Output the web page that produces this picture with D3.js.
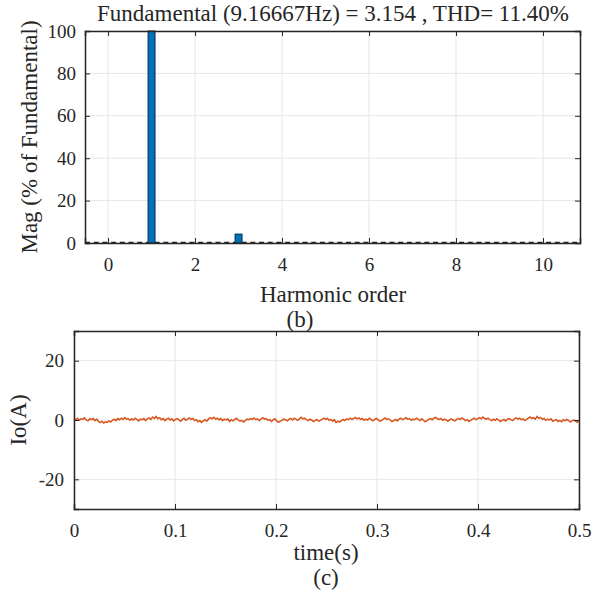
<!DOCTYPE html>
<html><head><meta charset="utf-8">
<script src="https://cdn.jsdelivr.net/npm/d3@7"></script>
<style>body{margin:0;background:#fff}svg{display:block}text{font-family:"Liberation Serif","Times New Roman",serif;fill:#262626}</style>
</head><body><svg id="c" width="602" height="599"></svg>
<script>
const harmonics = [1, 3];
const harmonicMag = [100, 4.2];
const harmonicTicks = [0, 2, 4, 6, 8, 10];
const magTicks = [0, 20, 40, 60, 80, 100];
const titleText = "Fundamental (9.16667Hz) = 3.154 , THD= 11.40%";
const ioValues = [0.3,0.1,0.6,-0.1,0.4,0.2,0.7,0.0,-0.3,0.4,0.1,0.5,-0.2,0.3,-0.5,-0.9,-0.4,-1.0,-0.6,-0.8,
-0.3,-0.7,-0.1,0.3,-0.2,0.5,0.1,0.6,0.2,0.8,0.3,0.5,-0.1,0.4,0.0,0.6,0.2,-0.3,0.3,0.1,
0.5,-0.2,0.4,0.7,0.2,1.0,0.5,1.2,0.4,0.8,0.1,0.5,-0.2,0.3,0.6,0.0,0.4,-0.3,0.2,0.5,
0.1,-0.4,0.2,0.6,-0.1,0.3,0.7,0.2,0.5,-0.2,0.1,-0.6,-0.2,-0.8,-0.3,0.1,-0.4,0.3,0.8,0.4,
0.9,0.3,0.6,0.1,0.5,-0.2,0.3,0.0,0.4,-0.5,0.1,-0.3,0.2,0.6,0.0,-0.4,-0.1,-0.7,-0.2,0.3,
0.1,0.5,0.2,0.7,0.1,0.4,-0.2,0.3,0.8,0.3,0.5,-0.1,0.2,-0.5,0.1,0.4,-0.3,-0.8,-0.4,-0.1,
0.3,0.1,-0.3,0.2,0.5,0.0,0.6,0.3,-0.1,0.4,0.9,0.4,0.6,0.1,-0.2,0.3,0.0,-0.5,-0.2,0.2,
-0.4,-0.1,0.3,0.6,0.2,0.5,-0.1,0.2,-0.4,0.1,-0.9,-0.4,-0.7,-0.2,0.2,-0.2,0.4,0.1,0.6,0.2,
0.5,0.9,0.4,0.7,0.2,0.5,-0.1,0.3,0.0,0.6,0.2,-0.3,0.1,0.5,0.1,-0.4,-0.1,0.3,0.7,0.2,
0.4,0.0,-0.5,-0.2,0.2,-0.3,0.3,0.6,0.1,0.4,0.8,0.3,0.5,-0.1,0.3,0.1,0.6,0.2,-0.2,0.4,
-0.1,-0.6,-0.2,0.2,0.5,0.1,0.6,0.9,0.4,0.2,0.5,-0.1,0.3,0.0,-0.4,0.1,0.4,0.0,-0.3,0.2,
0.5,0.2,0.7,0.3,-0.2,0.1,-0.5,-0.1,0.3,0.6,0.1,0.4,0.8,0.4,1.0,0.5,0.3,0.6,0.1,-0.2,
0.3,-0.1,0.4,0.0,-0.5,-0.1,0.2,-0.3,0.3,0.5,0.1,-0.2,0.4,0.7,0.3,0.6,0.1,0.4,-0.2,0.2,
0.6,1.0,0.5,0.8,0.3,1.2,0.6,0.9,0.2,0.5,-0.1,0.3,0.0,0.4,-0.4,-0.1,0.2,-0.5,-0.2,-0.6,
0.1,-0.3,0.2,-0.1,-0.7,-0.3,0.0,-0.4,-0.8,-0.2];
const timeTicks = [0, 0.1, 0.2, 0.3, 0.4, 0.5];
const ioTicks = [-20, 0, 20];

const svg = d3.select("#c");
const axisCol = "#262626", gridCol = "#e6e6e6";
const fs = 19, lfs = 23;

function styleAxis(g) {
  g.attr("font-family", "Liberation Serif");
  g.select(".domain").attr("stroke", axisCol).attr("stroke-width", 1.5);
  g.selectAll(".tick line").attr("stroke", axisCol);
  g.selectAll(".tick text").attr("font-size", fs).attr("fill", axisCol);
}

// ---- Top chart
const t = {l:85, r:580, t:31, b:243};
const x1 = d3.scaleLinear().domain([-0.53, 10.85]).range([t.l, t.r]);
const y1 = d3.scaleLinear().domain([0, 100]).range([t.b, t.t]);
const g1 = svg.append("g");
harmonicTicks.forEach(v => g1.append("line").attr("x1", x1(v)).attr("x2", x1(v)).attr("y1", t.t).attr("y2", t.b).attr("stroke", gridCol));
magTicks.forEach(v => g1.append("line").attr("x1", t.l).attr("x2", t.r).attr("y1", y1(v)).attr("y2", y1(v)).attr("stroke", gridCol));
g1.append("line").attr("x1", t.l).attr("x2", t.r).attr("y1", y1(0)-0.5).attr("y2", y1(0)-0.5)
  .attr("stroke", "#222").attr("stroke-width", 1.5).attr("stroke-dasharray", "5,3.7");
const bw = 0.16;
g1.selectAll("rect.bar").data(harmonics).enter().append("rect")
  .attr("x", (d) => x1(d - bw/2)).attr("width", x1(bw) - x1(0))
  .attr("y", (d,i) => y1(harmonicMag[i])).attr("height", (d,i) => y1(0) - y1(harmonicMag[i]))
  .attr("fill", "#0072BD").attr("stroke", "#0a2a4a").attr("stroke-width", 1);
const ax1b = d3.axisBottom(x1).tickValues(harmonicTicks).tickSize(-5).tickPadding(15).tickFormat(d => String(d));
const ax1t = d3.axisTop(x1).tickValues(harmonicTicks).tickSize(-5).tickFormat("");
const ax1l = d3.axisLeft(y1).tickValues(magTicks).tickSize(-5).tickPadding(9).tickFormat(d => String(d));
const ax1r = d3.axisRight(y1).tickValues(magTicks).tickSize(-5).tickFormat("");
[[ax1b, `translate(0,${t.b})`], [ax1t, `translate(0,${t.t})`], [ax1l, `translate(${t.l},0)`], [ax1r, `translate(${t.r},0)`]].forEach(([a, tr]) => {
  styleAxis(g1.append("g").attr("transform", tr).call(a));
});
g1.append("text").attr("x", 333).attr("y", 21).attr("text-anchor", "middle").attr("font-size", lfs).text(titleText);
g1.append("text").attr("transform", `translate(37,${(t.t+t.b)/2}) rotate(-90)`).attr("text-anchor", "middle").attr("font-size", lfs).text("Mag (% of Fundamental)");
g1.append("text").attr("x", 333).attr("y", 302).attr("text-anchor", "middle").attr("font-size", lfs).text("Harmonic order");
g1.append("text").attr("x", 300).attr("y", 327).attr("text-anchor", "middle").attr("font-size", lfs).text("(b)");

// ---- Bottom chart
const b = {l:74, r:579, t:331, b:509};
const x2 = d3.scaleLinear().domain([0, 0.5]).range([b.l, b.r]);
const y2 = d3.scaleLinear().domain([-30, 30]).range([b.b, b.t]);
const g2 = svg.append("g");
timeTicks.forEach(v => g2.append("line").attr("x1", x2(v)).attr("x2", x2(v)).attr("y1", b.t).attr("y2", b.b).attr("stroke", gridCol));
ioTicks.forEach(v => g2.append("line").attr("x1", b.l).attr("x2", b.r).attr("y1", y2(v)).attr("y2", y2(v)).attr("stroke", gridCol));
const n = ioValues.length;
const line = d3.line().x((d,i) => x2(i * 0.5 / (n-1))).y(d => y2(d));
g2.append("path").datum(ioValues).attr("d", line).attr("fill", "none").attr("stroke", "#D95319").attr("stroke-width", 1.5);
const ax2b = d3.axisBottom(x2).tickValues(timeTicks).tickSize(-5).tickPadding(15).tickFormat(d => d === 0 ? "0" : d3.format(".1f")(d));
const ax2t = d3.axisTop(x2).tickValues(timeTicks).tickSize(-5).tickFormat("");
const ax2l = d3.axisLeft(y2).tickValues(ioTicks).tickSize(-5).tickPadding(10).tickFormat(d => String(d));
const ax2r = d3.axisRight(y2).tickValues(ioTicks).tickSize(-5).tickFormat("");
[[ax2b, `translate(0,${b.b})`], [ax2t, `translate(0,${b.t})`], [ax2l, `translate(${b.l},0)`], [ax2r, `translate(${b.r},0)`]].forEach(([a, tr]) => {
  styleAxis(g2.append("g").attr("transform", tr).call(a));
});
g2.append("text").attr("transform", `translate(26,${(b.t+b.b)/2}) rotate(-90)`).attr("text-anchor", "middle").attr("font-size", lfs).text("Io(A)");
g2.append("text").attr("x", 326).attr("y", 560).attr("text-anchor", "middle").attr("font-size", lfs).text("time(s)");
g2.append("text").attr("x", 326).attr("y", 585).attr("text-anchor", "middle").attr("font-size", lfs).text("(c)");
</script></body></html>
